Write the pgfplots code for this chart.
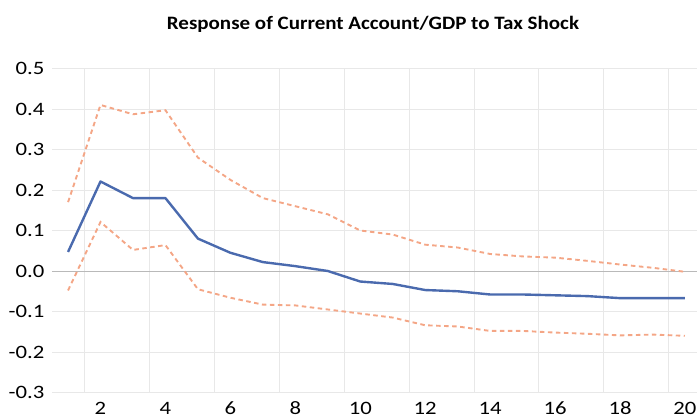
\documentclass[border=0pt]{standalone}
\usepackage{pgfplots}
\pgfplotsset{compat=1.18}
\usepackage{fontspec}
\setmainfont{Carlito}

\definecolor{irfblue}{RGB}{74,106,174}
\definecolor{bandorange}{RGB}{244,166,134}
\definecolor{gridgray}{RGB}{232,232,232}
\definecolor{zerogray}{RGB}{185,185,185}

% Impulse response and its confidence band, horizons 1-20
\pgfplotstableread{
h   mid     up      lo
1   0.047   0.170  -0.048
2   0.221   0.410   0.121
3   0.180   0.387   0.052
4   0.180   0.397   0.064
5   0.080   0.280  -0.045
6   0.045   0.225  -0.066
7   0.022   0.180  -0.083
8   0.012   0.160  -0.085
9   0.000   0.140  -0.095
10 -0.026   0.100  -0.105
11 -0.032   0.090  -0.115
12 -0.047   0.065  -0.134
13 -0.050   0.058  -0.137
14 -0.058   0.042  -0.148
15 -0.058   0.036  -0.148
16 -0.060   0.033  -0.152
17 -0.062   0.025  -0.155
18 -0.067   0.016  -0.159
19 -0.067   0.008  -0.157
20 -0.067  -0.002  -0.160
}\irf

\begin{document}
\begin{tikzpicture}
\begin{axis}[
  at={(0,0)}, anchor=south west,
  scale only axis,
  width=649.4bp, height=324bp,
  xmin=0.5, xmax=20.5,
  ymin=-0.3, ymax=0.5,
  axis line style={draw=none},
  xtick={2,4,...,20},
  minor xtick={1.5,3.5,...,19.5},
  ytick={-0.3,-0.2,...,0.5},
  major tick length=0pt, minor tick length=0pt,
  xmajorgrids=false, xminorgrids=true, ymajorgrids=true,
  grid style={gridgray, line width=0.8pt},
  minor grid style={gridgray, line width=0.8pt},
  /pgf/number format/assume math mode=true,
  ticklabel style={font=\fontsize{19}{22}\selectfont, xscale=1.2},
  yticklabel style={/pgf/number format/.cd, fixed, fixed zerofill, precision=1, /tikz/.cd,
    anchor=east, inner sep=0pt, xshift=-6bp},
  xticklabel style={anchor=base, inner sep=0pt, yshift=-21.5bp},
  clip=false,
]
\draw[zerogray, line width=0.9pt] (axis cs:0.5,0) -- (axis cs:20.5,0);
\addplot[bandorange, line width=1.9pt, dash pattern=on 4.5bp off 3.5bp] table[x=h, y=up] {\irf};
\addplot[bandorange, line width=1.9pt, dash pattern=on 4.5bp off 3.5bp] table[x=h, y=lo] {\irf};
\addplot[irfblue, line width=2.4pt, line join=round] table[x=h, y=mid] {\irf};
\end{axis}
\node[anchor=base, xscale=1.11, font=\bfseries\fontsize{19}{22}\selectfont] at (321.2bp,362.8bp)
  {Response of Current Account/GDP to Tax Shock};
\pgfresetboundingbox
\path[use as bounding box] (-51.8bp,-25.5bp) rectangle (645.2bp,392.5bp);
\end{tikzpicture}
\end{document}
